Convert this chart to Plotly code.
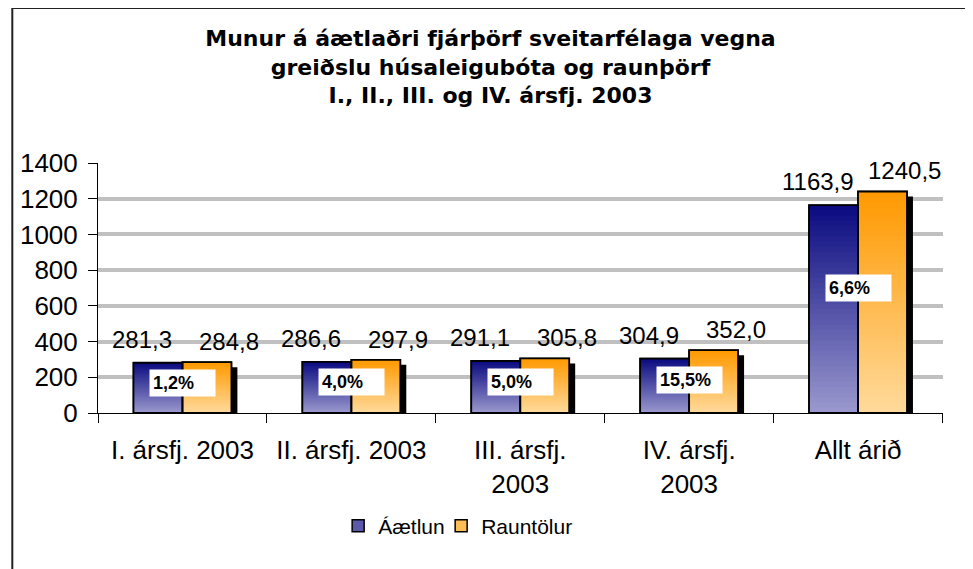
import plotly.graph_objects as go

# ---- data ----
categories = ["I. ársfj. 2003", "II. ársfj. 2003", "III. ársfj.<br>2003", "IV. ársfj.<br>2003", "Allt árið"]
aaetlun = [281.3, 286.6, 291.1, 304.9, 1163.9]
rauntolur = [284.8, 297.9, 305.8, 352.0, 1240.5]
aaetlun_labels = ["281,3", "286,6", "291,1", "304,9", "1163,9"]
rauntolur_labels = ["284,8", "297,9", "305,8", "352,0", "1240,5"]
diff_labels = ["1,2%", "4,0%", "5,0%", "15,5%", "6,6%"]
y_ticks = [0, 200, 400, 600, 800, 1000, 1200, 1400]

# ---- layout constants (page has an 8px body margin) ----
W, H = 965, 561
ML, MR, MT, MB = 87, 30, 155, 156
PW, PH = W - ML - MR, H - MT - MB
BW = 0.29  # bar width in category units
N = 40     # gradient steps

blue_top, blue_bot = (10, 10, 128), (155, 153, 206)
orng_top, orng_bot = (255, 153, 0), (255, 218, 156)


def mix(c1, c2, t):
    return "rgb(%d,%d,%d)" % tuple(round(a + (b - a) * t) for a, b in zip(c1, c2))


fig = go.Figure()
series = [
    ("Áætlun", aaetlun, -BW, blue_top, blue_bot, 58),
    ("Rauntölur", rauntolur, 0.0, orng_top, orng_bot, None),
]

# shadows
shadow_dx = 6 / (PW / len(categories))
shadow_dy = 5 * 1400 / PH
for name, vals, off, ct, cb, lw in series:
    fig.add_trace(go.Bar(x=categories, y=vals, base=[-shadow_dy] * len(vals), width=BW,
                         offset=off + shadow_dx, marker=dict(color="black", line=dict(width=0)),
                         showlegend=False, hoverinfo="skip"))

# base (legend) bars
for name, vals, off, ct, cb, lw in series:
    fig.add_trace(go.Bar(x=categories, y=vals, width=BW, offset=off, name=name,
                         legendwidth=lw,
                         marker=dict(color=mix(cb, ct, 0.45), line=dict(color="black", width=1.5)),
                         hoverinfo="skip"))

# gradient layers
for name, vals, off, ct, cb, lw in series:
    for k in range(N, 0, -1):
        t = k / N
        fig.add_trace(go.Bar(x=categories, y=[v * t for v in vals], width=BW, offset=off,
                             marker=dict(color=mix(cb, ct, t - 0.5 / N), line=dict(width=0)),
                             showlegend=False, hoverinfo="skip"))

# outlines on top
for name, vals, off, ct, cb, lw in series:
    fig.add_trace(go.Bar(x=categories, y=vals, width=BW, offset=off,
                         marker=dict(color="rgba(0,0,0,0)", line=dict(color="black", width=1.8)),
                         showlegend=False, hoverinfo="skip"))

annotations = []
for i in range(len(categories)):
    annotations.append(dict(x=i - BW / 2, y=aaetlun[i], xref="x", yref="y", text=aaetlun_labels[i],
                            showarrow=False, yanchor="bottom", xanchor="center", xshift=-16, yshift=8,
                            font=dict(family="Liberation Sans, Arial", size=24, color="black")))
    annotations.append(dict(x=i + BW / 2, y=rauntolur[i], xref="x", yref="y", text=rauntolur_labels[i],
                            showarrow=False, yanchor="bottom", xanchor="center", xshift=22, yshift=5,
                            font=dict(family="Liberation Sans, Arial", size=24, color="black")))
    annotations.append(dict(x=i, y=aaetlun[i] * 0.6, xref="x", yref="y", text="<b>%s</b>" % diff_labels[i],
                            showarrow=False, xanchor="center", yanchor="middle", bgcolor="white",
                            width=59, height=20, borderpad=3, align="left",
                            font=dict(family="Liberation Sans, Arial", size=18, color="black")))

shapes = [dict(type="rect", xref="paper", yref="paper",
               x0=(1 - ML) / PW, x1=(961 - ML) / PW,
               y0=(H - MB - 580) / PH, y1=(H - MB - 0) / PH,
               line=dict(color="#222222", width=2), fillcolor="rgba(0,0,0,0)", layer="below")]

fig.update_layout(
    width=W, height=H,
    margin=dict(l=ML, r=MR, t=MT, b=MB),
    paper_bgcolor="white", plot_bgcolor="white",
    barmode="overlay",
    title=dict(text="<b>Munur á áætlaðri fjárþörf sveitarfélaga vegna<br>greiðslu húsaleigubóta og raunþörf<br>I., II., III. og IV. ársfj. 2003</b>",
               font=dict(family="DejaVu Sans", size=22, color="black"),
               x=0.5 * 973 / W - 4 / W, xref="container", xanchor="center",
               y=1 - 38 / H, yref="container", yanchor="top"),
    xaxis=dict(type="category", showline=True, linecolor="black", linewidth=1,
               ticks="outside", tickson="boundaries", ticklen=9, tickcolor="black",
               showgrid=False, ticklabelstandoff=14,
               tickfont=dict(family="Liberation Sans, Arial", size=26, color="black")),
    yaxis=dict(range=[0, 1400], tickvals=y_ticks, showline=True, linecolor="black", linewidth=1,
               ticks="outside", ticklen=9, tickcolor="black",
               showgrid=True, gridcolor="#c0c0c0", gridwidth=3.5, zeroline=False,
               ticklabelstandoff=5,
               tickfont=dict(family="Liberation Sans, Arial", size=26, color="black")),
    legend=dict(orientation="h", x=(328 - ML) / PW, xanchor="left",
                y=-(518 - (H - MB)) / PH, yanchor="middle",
                font=dict(family="Liberation Sans, Arial", size=21, color="black"),
                itemwidth=30, tracegroupgap=0),
    annotations=annotations,
    shapes=shapes,
    showlegend=True,
)

fig.write_html("out.html")
